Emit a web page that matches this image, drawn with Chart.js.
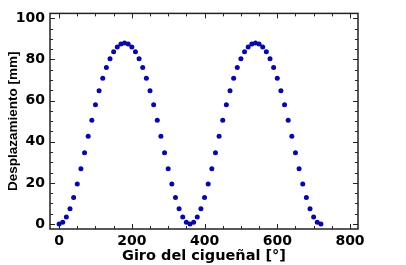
<!DOCTYPE html>
<html>
<head>
<meta charset="utf-8">
<script src="https://cdn.jsdelivr.net/npm/chart.js@4"></script>
<style>
  html, body { margin: 0; padding: 0; background: #fff; }
  #wrap { width: 406px; height: 265px; }
</style>
</head>
<body>
<div id="wrap"><canvas id="chart"></canvas></div>
<script>
// crank angle in degrees, every 10 deg
const angles = [
    0, 10, 20, 30, 40, 50, 60, 70, 80, 90, 100, 110, 120, 130, 140, 150, 160, 170, 180,
    190, 200, 210, 220, 230, 240, 250, 260, 270, 280, 290, 300, 310, 320, 330, 340, 350, 360,
    370, 380, 390, 400, 410, 420, 430, 440, 450, 460, 470, 480, 490, 500, 510, 520, 530, 540,
    550, 560, 570, 580, 590, 600, 610, 620, 630, 640, 650, 660, 670, 680, 690, 700, 710, 720
];
// piston displacement [mm]
const displacement = [
    0, 0.9, 3.4, 7.5, 12.9, 19.5, 26.9, 34.7, 42.7, 50.5, 58.0, 64.8, 70.9, 76.1, 80.4, 83.7, 86.1, 87.5, 88.0,
    87.5, 86.1, 83.7, 80.4, 76.1, 70.9, 64.8, 58.0, 50.5, 42.7, 34.7, 26.9, 19.5, 12.9, 7.5, 3.4, 0.9, 0,
    0.9, 3.4, 7.5, 12.9, 19.5, 26.9, 34.7, 42.7, 50.5, 58.0, 64.8, 70.9, 76.1, 80.4, 83.7, 86.1, 87.5, 88.0,
    87.5, 86.1, 83.7, 80.4, 76.1, 70.9, 64.8, 58.0, 50.5, 42.7, 34.7, 26.9, 19.5, 12.9, 7.5, 3.4, 0.9, 0
];
const xTicks = [0, 200, 400, 600, 800];
const yTicks = [0, 20, 40, 60, 80, 100];

// frame around the plot with inward major/minor ticks
const frame = {
    id: 'frame',
    afterDraw(chart) {
        const ctx = chart.ctx;
        const a = chart.chartArea;
        const xs = chart.scales.x;
        const ys = chart.scales.y;
        ctx.save();
        ctx.strokeStyle = '#222';
        ctx.lineWidth = 1.5;
        ctx.strokeRect(a.left, a.top, a.right - a.left, a.bottom - a.top);
        ctx.lineWidth = 1;
        ctx.beginPath();
        for (let v = 0; v <= 800; v += 50) {
            const px = Math.round(xs.getPixelForValue(v)) + 0.5;
            const len = v % 200 === 0 ? 5 : 3;
            ctx.moveTo(px, a.bottom); ctx.lineTo(px, a.bottom - len);
            ctx.moveTo(px, a.top); ctx.lineTo(px, a.top + len);
        }
        for (let v = 0; v <= 100; v += 5) {
            const py = Math.round(ys.getPixelForValue(v)) + 0.5;
            const len = v % 20 === 0 ? 5 : 3;
            ctx.moveTo(a.left, py); ctx.lineTo(a.left + len, py);
            ctx.moveTo(a.right, py); ctx.lineTo(a.right - len, py);
        }
        ctx.stroke();
        ctx.restore();
    }
};

const tickFont = { family: 'DejaVu Sans', size: 14, weight: 'bold' };

new Chart(
    document.getElementById('chart'),
    {
        type: 'scatter',
        data: {
            datasets: [{
                data: angles.map((a, i) => ({ x: a, y: displacement[i] })),
                backgroundColor: '#0808a4',
                borderColor: '#0808a4',
                pointRadius: 2.5,
                pointBorderWidth: 0,
                showLine: false
            }]
        },
        options: {
            responsive: true,
            maintainAspectRatio: false,
            animation: false,
            layout: { padding: { top: 8, right: 48, left: 0, bottom: 0 } },
            plugins: {
                legend: { display: false },
                tooltip: { enabled: false }
            },
            scales: {
                x: {
                    type: 'linear',
                    min: -25,
                    max: 822,
                    afterBuildTicks: s => { s.ticks = xTicks.map(v => ({ value: v })); },
                    afterFit: s => { s.height = 36; },
                    grid: { display: false, drawTicks: false },
                    border: { display: false },
                    ticks: { color: '#000', font: tickFont, padding: 4, maxRotation: 0 },
                    title: {
                        display: true,
                        text: 'Giro del cigueñal [°]',
                        color: '#000',
                        font: { family: 'DejaVu Sans', size: 14.5, weight: 'bold' },
                        padding: { top: 0, bottom: 0 }
                    }
                },
                y: {
                    min: -2.4,
                    max: 102.4,
                    afterBuildTicks: s => { s.ticks = yTicks.map(v => ({ value: v })); },
                    afterFit: s => { s.width = 50; },
                    grid: { display: false, drawTicks: false },
                    border: { display: false },
                    ticks: { color: '#000', font: tickFont, padding: 5 },
                    title: {
                        display: true,
                        text: 'Desplazamiento [mm]',
                        color: '#000',
                        font: { family: 'Liberation Sans', size: 13.5, weight: 'bold' },
                        padding: { top: 5, bottom: 0 }
                    }
                }
            }
        },
        plugins: [frame]
    }
);
</script>
</body>
</html>
